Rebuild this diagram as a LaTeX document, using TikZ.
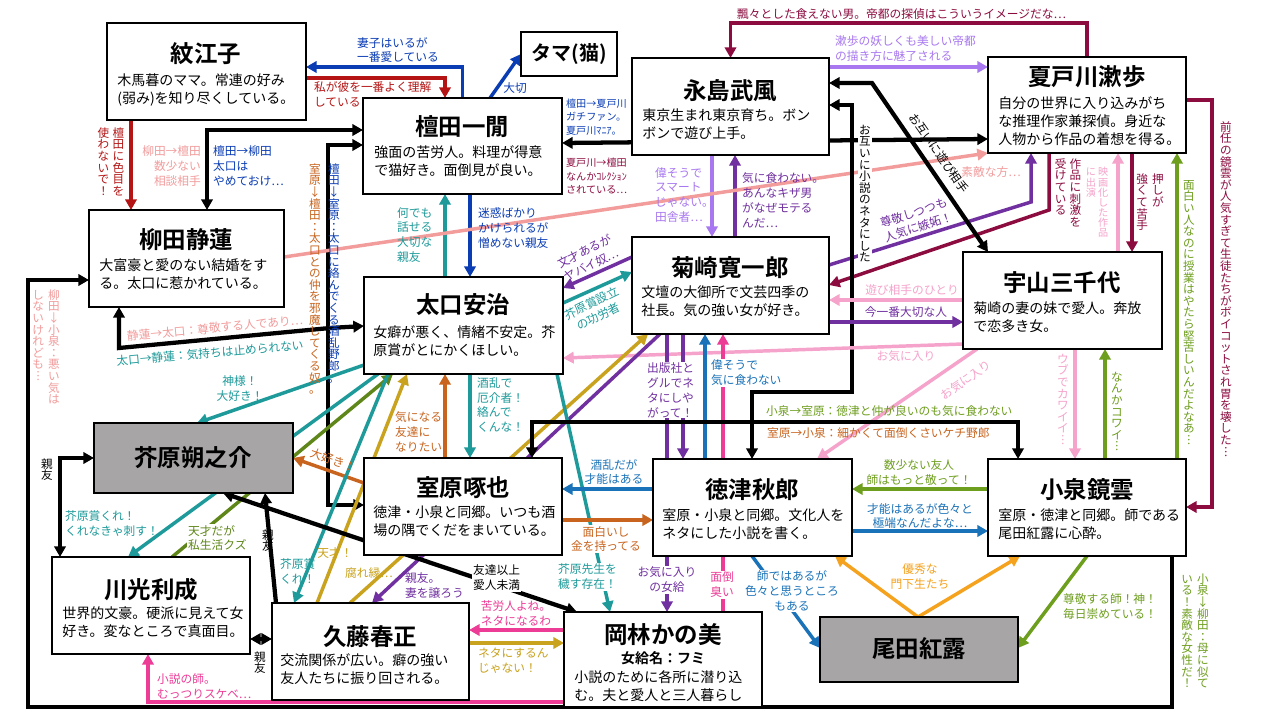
\documentclass[tikz,border=0pt]{standalone}
\usepackage{fontspec}
\setmainfont[BoldFont={Noto Sans CJK JP Bold}]{Noto Sans CJK JP}
\newfontfamily\jp[BoldFont={Noto Sans CJK JP Bold}]{Noto Sans CJK JP}
\usetikzlibrary{arrows.meta,calc}
\pgfdeclarelayer{bg}
\pgfsetlayers{bg,main}
\definecolor{cNavy}{HTML}{0A3CB4}
\definecolor{cDred}{HTML}{B41414}
\definecolor{cMaroon}{HTML}{8C0C40}
\definecolor{cLpur}{HTML}{A878F0}
\definecolor{cDpur}{HTML}{7030A0}
\definecolor{cSalmon}{HTML}{F29C9C}
\definecolor{cPink}{HTML}{F5A3CB}
\definecolor{cMag}{HTML}{EC3C96}
\definecolor{cTeal}{HTML}{1E9A9A}
\definecolor{cBlue}{HTML}{1A72B8}
\definecolor{cBrown}{HTML}{C8641E}
\definecolor{cGold}{HTML}{C9A21E}
\definecolor{cOlive}{HTML}{6E9E1E}
\definecolor{cOrng}{HTML}{F5A21E}
\definecolor{cGray}{HTML}{A7A5A5}
\def\vtloop#1{\ifx\relax#1\else\hbox to 1em{\hss\vrule height .88em depth .12em width 0pt\relax #1\hss}\expandafter\vtloop\fi}
\newcommand\vt[1]{\vtop{\offinterlineskip\vtloop#1\relax}}
\newcommand\pbox[6]{\node[box,fill=#6,minimum width={(#4-#2)*0.75pt},minimum height={(#5-#3)*0.75pt}] (#1) at ({(#2+#4)/2},{(#3+#5)/2}) {};}
\tikzset{
 box/.style={draw=black,line width=0.9pt,inner sep=0pt,outer sep=0pt},
 ttl/.style={font=\jp\bfseries\fontsize{17.6}{20}\selectfont,inner sep=0pt},
 dsc/.style={font=\jp\fontsize{10.5}{13.5}\selectfont,align=left,inner sep=0pt,anchor=north west},
 lb/.style={font=\jp\fontsize{8.8}{11.2}\selectfont,inner sep=0.6pt},
 sm/.style={font=\jp\fontsize{7.6}{10}\selectfont,inner sep=0.6pt},
 vl/.style={font=\jp\fontsize{8.7}{10}\selectfont,inner sep=0.6pt,anchor=north},
 vls/.style={font=\jp\fontsize{7.6}{9}\selectfont,inner sep=0.6pt,anchor=north},
 ln/.style={line width=2.6pt},
 bk/.style={line width=3.2pt,black},
 ar/.style={-{Triangle[length=8pt,width=8.5pt]}},
 arr2/.style={{Triangle[length=8pt,width=8.5pt]}-{Triangle[length=8pt,width=8.5pt]}}
}
\begin{document}
\begin{tikzpicture}[x=0.75pt,y=-0.75pt]
\useasboundingbox (0,0) rectangle (1280,720);
% ---------- boxes ----------
\pbox{mon}{107}{23}{306}{120}{white}
\pbox{tama}{521}{32}{617}{76}{white}
\pbox{dan}{363}{98}{562}{194}{white}
\pbox{naga}{632}{58}{829}{155}{white}
\pbox{nat}{988}{57}{1186}{153}{white}
\pbox{yan}{89}{210}{284}{307}{white}
\pbox{tag}{364}{277}{563}{374}{white}
\pbox{kik}{632}{237}{829}{334}{white}
\pbox{uya}{963}{252}{1162}{349}{white}
\pbox{aku}{94}{423}{293}{493}{cGray}
\pbox{mur}{364}{458}{562}{555}{white}
\pbox{tok}{653}{459}{852}{556}{white}
\pbox{koi}{988}{459}{1186}{556}{white}
\pbox{kaw}{52}{557}{250}{654}{white}
\pbox{kut}{272}{603}{469}{700}{white}
\pbox{oka}{564}{612}{762}{707}{white}
\pbox{oda}{820}{617}{1018}{682}{cGray}
% ---------- titles & descriptions ----------
\node[ttl] (monT) at (206,54) {紋江子};
\node[dsc] (monD) at (117,73) {木馬暮のママ。常連の好み\\(弱み)を知り尽くしている。};
\node[font=\jp\bfseries\fontsize{15}{17}\selectfont,inner sep=0pt] (tamaT) at (569,54) {タマ(猫)};
\node[ttl] (danT) at (462,127) {檀田一閒};
\node[dsc] (danD) at (374,145) {強面の苦労人。料理が得意\\で猫好き。面倒見が良い。};
\node[ttl] (nagaT) at (730,91) {永島武風};
\node[dsc] (nagaD) at (642,108) {東京生まれ東京育ち。ボン\\ボンで遊び上手。};
\node[ttl] (natT) at (1087,77) {夏戸川漱歩};
\node[dsc] (natD) at (998,96) {自分の世界に入り込みがち\\な推理作家兼探偵。身近な\\人物から作品の着想を得る。};
\node[ttl] (yanT) at (186,240) {柳田静蓮};
\node[dsc] (yanD) at (99,258) {大富豪と愛のない結婚をす\\る。太口に惹かれている。};
\node[ttl] (tagT) at (463,305) {太口安治};
\node[dsc] (tagD) at (373,325) {女癖が悪く、情緒不安定。芥\\原賞がとにかくほしい。};
\node[ttl] (kikT) at (730,268) {菊崎寛一郎};
\node[dsc] (kikD) at (641,285) {文壇の大御所で文芸四季の\\社長。気の強い女が好き。};
\node[ttl] (uyaT) at (1062,283) {宇山三千代};
\node[dsc] (uyaD) at (973,301) {菊崎の妻の妹で愛人。奔放\\で恋多き女。};
\node[ttl] (akuT) at (193,458) {芥原朔之介};
\node[ttl] (murT) at (463,488) {室原啄也};
\node[dsc] (murD) at (373,505) {徳津・小泉と同郷。いつも酒\\場の隅でくだをまいている。};
\node[ttl] (tokT) at (752,490) {徳津秋郎};
\node[dsc] (tokD) at (662,508) {室原・小泉と同郷。文化人を\\ネタにした小説を書く。};
\node[ttl] (koiT) at (1087,490) {小泉鏡雲};
\node[dsc] (koiD) at (998,508) {室原・徳津と同郷。師である\\尾田紅露に心酔。};
\node[ttl] (kawT) at (151,590) {川光利成};
\node[dsc] (kawD) at (62,606) {世界的文豪。硬派に見えて女\\好き。変なところで真面目。};
\node[ttl] (kutT) at (370,637) {久藤春正};
\node[dsc] (kutD) at (280,653) {交流関係が広い。癖の強い\\友人たちに振り回される。};
\node[ttl] (okaT) at (663,635) {岡林かの美};
\node[font=\jp\bfseries\fontsize{10.5}{12}\selectfont,inner sep=0pt] (okaS) at (663,658) {女給名：フミ};
\node[dsc] (okaD) at (574,670) {小説のために各所に潜り込\\む。夫と愛人と三人暮らし};
\node[ttl] (odaT) at (919,649) {尾田紅露};
% ---------- connectors ----------
\begin{pgfonlayer}{bg}
\fill[white] (0,0) rectangle (1280,720);
% top-left
\draw[ln,cNavy,ar] (dan.north) |- (mon.east |- 0,67);
\draw[ln,cDred,ar] (mon.east |- 0,78) -| (dan.north -| 445,0);
\draw[ln,cNavy,ar] (dan.north -| 490,0) -- (tama.west);
\draw[ln,cDred,ar] (mon.south -| 131,0) -- (yan.north -| 131,0);
\draw[bk,arr2] (yan.north -| 207,0) |- (dan.west |- 0,130);
\draw[bk,arr2] (dan.west |- 0,145) -- (328,145) -- (328,505) -- (mur.west |- 0,505);
\draw[bk,arr2] (yan.south -| 119,0) -- (119,348) -- (330,328) -- (tag.west |- 0,326);
\draw[ln,cTeal,ar] (tag.north -| 445,0) -- (dan.south -| 445,0);
\draw[ln,cNavy,ar] (dan.south -| 470,0) -- (tag.north -| 470,0);
\draw[bk,arr2] (dan.east |- 0,143) -- (nat.west |- 0,139);
% naga / nat
\draw[ln,cLpur,ar] (naga.south -| 712,0) -- (kik.north -| 712,0);
\draw[ln,cDpur,ar] (kik.north -| 735,0) -- (naga.south -| 735,0);
\draw[ln,cMaroon,ar] (nat.north) -- ++(0,-34) -| (naga.north);
\draw[ln,cLpur,ar] (naga.east |- 0,67) -- (nat.west |- 0,67);
\draw[ln,cSalmon,ar] (yan.east |- 0,257) -- (nat.south west);
\draw[ln,cDpur,ar] (kik.east |- 0,265) -- (1031,202) -- (nat.south -| 1031,0);
\draw[ln,cMaroon,ar] (nat.south -| 1049,0) -- (1049,210) -- (kik.east |- 0,285);
\draw[bk,arr2] (naga.east |- 0,83) -- (872,83) -- (uya.north -| 988,0);
\draw[bk,arr2] (naga.east |- 0,105) -- (852,105) -- (852,392) -- (752,392) -- (tok.north -| 752,0);
% uya
\draw[ln,cPink,ar] (uya.west |- 0,300) -- (kik.east |- 0,300);
\draw[ln,cDpur,ar] (kik.east |- 0,322) -- (uya.west |- 0,322);
\draw[ln,cPink,ar] (uya.west |- 0,344) -- (tag.east |- 0,358);
\draw[ln,cPink,ar] (uya.south -| 977,0) -- (tok.north -| 817,0);
\draw[ln,cPink,ar] (uya.north -| 1118,0) -- (nat.south -| 1118,0);
\draw[ln,cMaroon,ar] (nat.south -| 1132,0) -- (uya.north -| 1132,0);
\draw[ln,cOlive,ar] (koi.north -| 1177,0) -- (nat.south -| 1177,0);
\draw[ln,cMaroon,ar] (nat.east |- 0,100) -- (1212,100) -- (1212,507) -- (koi.east |- 0,507);
\draw[ln,cOlive,ar] (koi.north -| 1105,0) -- (uya.south -| 1105,0);
\draw[ln,cPink,ar] (uya.south -| 1075,0) -- (koi.north -| 1075,0);
% kik
\draw[ln,cDpur,ar] (kik.west |- 0,257) -- (tag.east |- 0,288);
\draw[ln,cTeal,ar] (tag.east |- 0,303) -- (kik.west |- 0,272);
\draw[ln,cDpur,ar] (kik.south -| 683,0) -- (tok.north -| 683,0);
\draw[ln,cDpur,ar] (kik.south -| 667,0) -- (oka.north -| 667,0);
\draw[ln,cBlue,ar] (tok.north -| 705,0) -- (kik.south -| 705,0);
\draw[ln,cMag,ar] (oka.north -| 723,0) -- (kik.south -| 723,0);
\draw[ln,cDpur,ar] (kik.south -| 660,0) -- (kut.north -| 372,0);
\draw[ln,cGold,ar] (kut.north -| 350,0) -- (kik.south -| 648,0);
% tag / mur / aku
\draw[ln,cGold,ar] (kut.north -| 317,0) -- (tag.south -| 407,0);
\draw[ln,cBrown,ar] (mur.north -| 445,0) -- (tag.south -| 445,0);
\draw[ln,cTeal,ar] (tag.south -| 470,0) -- (mur.north -| 470,0);
\draw[ln,cBrown,ar] (mur.west |- 0,483) -- (aku.east |- 0,458);
\draw[ln,cTeal,ar] (tag.west |- 0,365) -- (aku.north -| 197,0);
\draw[ln,cTeal,ar] (tag.south -| 378,0) -- (kaw.north -| 128,0);
\draw[ln,cOlive!85!black,ar] (kaw.north -| 172,0) -- (tag.south -| 393,0);
\draw[ln,cTeal,ar] (tag.south -| 388,0) -- (kut.north -| 294,0);
\draw[ln,cTeal,ar] (tag.south -| 557,0) -- (oka.north -| 610,0);
\draw[bk,arr2] (aku.south -| 223,0) -- (oka.north -| 577,0);
\draw[bk,arr2] (aku.west |- 0,458) -- (60,458) -- (kaw.north -| 60,0);
\draw[bk,ar] (kut.north -| 276,0) -- (aku.south -| 265,0);
\draw[bk,arr2] (kaw.east |- 0,639) -- (kut.west |- 0,639);
% oka
\draw[ln,cMag,ar] (oka.west |- 0,702) -- (148,702) -- (kaw.south -| 148,0);
\draw[ln,cMag,ar] (oka.west |- 0,630) -- (kut.east |- 0,630);
\draw[ln,cGold,ar] (kut.east |- 0,643) -- (oka.west |- 0,643);
% border line
\draw[bk,ar] (koi.south -| 1172,0) -- (1172,707) -- (28,707) -- (28,280) -- (yan.west |- 0,280);
% mur / tok / koi
\draw[bk,arr2] (mur.north -| 532,0) -- (532,422) -- (1018,422) -- (koi.north -| 1018,0);
\draw[ln,cBlue,ar] (tok.west |- 0,489) -- (mur.east |- 0,489);
\draw[ln,cBrown,ar] (mur.east |- 0,520) -- (tok.west |- 0,520);
\draw[ln,cOlive,ar] (koi.west |- 0,489) -- (tok.east |- 0,489);
\draw[ln,cBlue,ar] (tok.east |- 0,531) -- (koi.west |- 0,531);
\draw[ln,cOrng,ar] (oda.north -| 918,0) -- (tok.south -| 835,0);
\draw[ln,cOrng,ar] (oda.north -| 918,0) -- (koi.south -| 1020,0);
\draw[ln,cBlue,ar] (tok.south -| 752,0) -- (oda.west |- 0,648);
\draw[ln,cOlive,ar] (koi.south -| 1087,0) -- (oda.east |- 0,648);
% ---------- labels ----------
\node[lb,text=cNavy,align=left] (l1) at (398,50) {妻子はいるが\\一番愛している};
\node[lb,text=cDred,align=left,anchor=north west] (l2) at (313,81) {私が彼を一番よく理解\\している};
\node[lb,text=cNavy] (l3) at (515,88) {大切};
\node[vl,text=cDred] (v1) at (111,126) {\vt{使わないで！}\hspace{2.5pt}\vt{檀田に色目を}};
\node[lb,text=cSalmon,align=right,anchor=east] (l4) at (202,166) {柳田→檀田\\数少ない\\相談相手};
\node[lb,text=cNavy,align=left,anchor=west] (l5) at (212,166) {檀田→柳田\\太口は\\やめておけ…};
\node[vl,text=cBrown] (v2) at (315,162) {\vt{室原↓檀田：太口との仲を邪魔してくる奴。}};
\node[vl,text=cNavy] (v3) at (334,162) {\vt{檀田↓室原：太口に絡んでくる酒乱野郎。}};
\node[lb,text=cTeal,align=left,anchor=west] (l6) at (396,235) {何でも\\話せる\\大切な\\親友};
\node[lb,text=cNavy,align=left,anchor=west] (l7) at (477,228) {迷惑ばかり\\かけられるが\\憎めない親友};
\node[sm,text=cNavy,align=left,anchor=west] (l8) at (565,117) {檀田→夏戸川\\ガチファン。\\夏戸川ﾏﾆｱ。};
\node[sm,text=cMaroon,align=left,anchor=west] (l9) at (565,176) {夏戸川→檀田\\なんかｺﾚｸｼｮﾝ\\されている…};
\node[lb,text=cLpur,align=left,anchor=west] (l10) at (654,195) {偉そうで\\スマート\\じゃない。\\田舎者…};
\node[lb,text=cDpur,align=left,anchor=west] (l11) at (741,200) {気に食わない。\\あんなキザ男\\がなぜモテる\\んだ…};
\node[lb,text=cMaroon,anchor=west] (l12) at (736,14) {飄々とした食えない男。帝都の探偵はこういうイメージだな…};
\node[lb,text=cLpur,align=left,anchor=west] (l13) at (834,49) {漱歩の妖しくも美しい帝都\\の描き方に魅了される};
\node[lb,text=cSalmon] (l14) at (991,172) {素敵な方…};
\node[lb,text=cDpur,align=center,rotate=18] (l15) at (916,220) {尊敬しつつも\\人気に嫉妬！};
\node[vl,text=cMaroon] (v4) at (1068,157) {\vt{受けている}\hspace{2.5pt}\vt{作品に刺激を}};
\node[vls,text=cPink] (v5) at (1097,166) {\vt{に出演}\hspace{1.5pt}\vt{映画化した作品}};
\node[vl,text=cMaroon] (v6) at (1150,172) {\vt{強くて苦手}\hspace{3pt}\vt{押しが}};
\node[vl,text=cOlive] (v7) at (1189,178) {\vt{面白い人なのに授業はやたら堅苦しいんだよなあ︙}};
\node[vl,text=cMaroon] (v8) at (1226,120) {\vt{前任の鏡雲が人気すぎて生徒たちがボイコットされ胃を壊した︙}};
\node[vl,text=cOlive] (v9) at (1117,370) {\vt{なんかコワイ︙}};
\node[vl,text=cPink] (v10) at (1063,352) {\vt{ウブでカワイイ︙}};
\node[lb,text=cPink] (l16) at (912,290) {遊び相手のひとり};
\node[lb,text=cDpur] (l17) at (906,312) {今一番大切な人};
\node[lb,text=cPink] (l18) at (906,356) {お気に入り};
\node[lb,text=cPink,rotate=35] (l19) at (966,380) {お気に入り};
\node[lb,rotate=-55] (l20) at (939,153) {お互いに遊び相手};
\node[vl,fill=white] (v11) at (865,123) {\vt{お互いに小説のネタにした}};
\node[lb,text=cDpur,align=center,rotate=26] (l21) at (588,258) {文才あるが\\ヤバイ奴…};
\node[lb,text=cTeal,align=center,rotate=26] (l22) at (595,310) {芥原賞設立\\の功労者};
\node[lb,text=cSalmon,rotate=5] (l23) at (215,328) {静蓮→太口：尊敬する人であり…};
\node[lb,text=cTeal,rotate=5] (l24) at (210,353) {太口→静蓮：気持ちは止められない};
\node[lb,text=cTeal,align=center] (l25) at (240,389) {神様！\\大好き！};
\node[lb,text=cBrown,align=left,anchor=west] (l26) at (394,432) {気になる\\友達に\\なりたい};
\node[lb,text=cTeal,align=left,anchor=west] (l27) at (476,405) {酒乱で\\厄介者！\\絡んで\\くんな！};
\node[lb,text=cBrown,rotate=-19] (l28) at (333,460) {大好き！};
\node[lb,text=cOlive!85!black,align=left,anchor=west,fill=white] (l29) at (187,538) {天才だが\\私生活クズ};
\node[lb,text=cTeal,align=left,anchor=west] (l30) at (64,524) {芥原賞くれ！\\くれなきゃ刺す！};
\node[vl] (v12) at (47,457) {\vt{親友}};
\node[vl] (v13) at (268,528) {\vt{親友}};
\node[vl] (v14) at (260,650) {\vt{親友}};
\node[lb,text=cTeal,align=left,anchor=west] (l31) at (279,571) {芥原賞\\くれ！};
\node[lb,text=cGold] (l32) at (335,553) {天才！};
\node[lb,text=cGold] (l33) at (369,573) {腐れ縁…};
\node[lb,text=cDpur,align=left,anchor=west] (l34) at (404,586) {親友。\\妻を譲ろう};
\node[lb,align=left,anchor=west,fill=white] (l35) at (472,578) {友達以上\\愛人未満};
\node[lb,text=cTeal,align=left,anchor=west,fill=white] (l36) at (557,577) {芥原先生を\\穢す存在！};
\node[lb,text=cDpur,align=center,fill=white] (l37) at (667,580) {お気に入り\\の女給};
\node[lb,text=cMag,align=center,fill=white] (l38) at (722,585) {面倒\\臭い};
\node[lb,text=cBlue,align=center,fill=white] (l39) at (792,591) {師ではあるが\\色々と思うところ\\もある};
\node[lb,text=cBlue,align=center] (l40) at (614,472) {酒乱だが\\才能はある};
\node[lb,text=cBrown,align=center,fill=white] (l41) at (606,539) {面白いし\\金を持ってる};
\node[lb,text=cOlive,align=center] (l42) at (919,473) {数少ない友人\\師はもっと敬って！};
\node[lb,text=cBlue,align=center] (l43) at (920,516) {才能はあるが色々と\\極端なんだよな…};
\node[lb,text=cOrng,align=center] (l44) at (920,577) {優秀な\\門下生たち};
\node[lb,text=cOlive,align=left,anchor=west] (l45) at (1062,607) {尊敬する師！神！\\毎日崇めている！};
\node[lb,text=cOlive,anchor=west] (l46) at (765,411) {小泉→室原：徳津と仲が良いのも気に食わない};
\node[lb,text=cBrown,anchor=west] (l47) at (766,433) {室原→小泉：細かくて面倒くさいケチ野郎};
\node[lb,text=cDpur,align=left,anchor=west,fill=white] (l48) at (646,390) {出版社と\\グルでネ\\タにしや\\がって！};
\node[lb,text=cBlue,align=left,anchor=west,fill=white] (l49) at (710,373) {偉そうで\\気に食わない};
\node[lb,text=cMag,align=center] (l50) at (516,613) {苦労人よね。\\ネタになるわ};
\node[lb,text=cGold,align=left,anchor=west] (l51) at (477,661) {ネタにするん\\じゃない！};
\node[lb,text=cMag,align=left,anchor=west] (l52) at (156,686) {小説の師。\\むっつりスケベ…};
\node[vl,text=cSalmon] (v15) at (46,288) {\vt{しないけれども︙}\hspace{3pt}\vt{柳田↓小泉：悪い気は}};
\node[vl,text=cOlive] (v16) at (1195,572) {\vt{いる！素敵な女性だ！}\hspace{3pt}\vt{小泉↓柳田：母に似て}};
\end{pgfonlayer}
\end{tikzpicture}
\end{document}
